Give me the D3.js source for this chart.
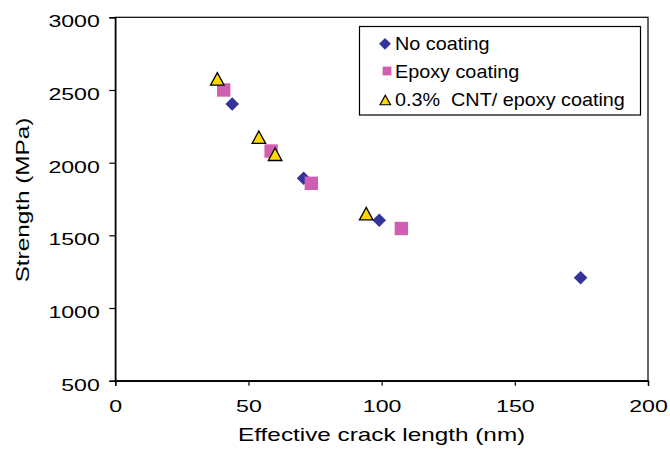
<!DOCTYPE html>
<html>
<head>
<meta charset="utf-8">
<script src="https://cdn.jsdelivr.net/npm/d3@7"></script>
<style>
html,body{margin:0;padding:0;background:#fff;}
svg{display:block;}
text{font-family:"Liberation Sans",Arial,sans-serif;fill:#000;white-space:pre;}
</style>
</head>
<body>
<svg id="chart" width="670" height="451"></svg>
<script>
// ---- data ----
const xTicks = [0, 50, 100, 150, 200];
const yTicks = [500, 1000, 1500, 2000, 2500, 3000];
const seriesNames = ["No coating", "Epoxy coating", "0.3%  CNT/ epoxy coating"];
const noCoatingX = [43.9, 70.7, 99.1, 174.7];
const noCoatingY = [2404, 1893, 1604, 1208];
const epoxyX = [40.7, 58.5, 73.6, 107.4];
const epoxyY = [2500, 2080, 1858, 1547];
const cntX = [38.3, 53.9, 60.0, 94.2];
const cntY = [2576, 2175, 2058, 1649];
const xTitle = "Effective crack length (nm)";
const yTitle = "Strength (MPa)";

// ---- layout ----
const L = 115.3, R = 648, T = 17.3, B = 380.7;
const svg = d3.select("#chart");
const x = d3.scaleLinear().domain([0, 200]).range([L, R]);
const y = d3.scaleLinear().domain([500, 3000]).range([B, T]);

const TICK_S = 1.36, TITLE_S = 1.35, LEG_S = 1.1;

// plot frame (top and right)
svg.append("rect").attr("x", L).attr("y", T).attr("width", R - L).attr("height", B - T)
  .attr("fill", "none").attr("stroke", "#000").attr("stroke-width", 1.2);

// axes
const gx = svg.append("g").attr("transform", `translate(0,${B})`)
  .call(d3.axisBottom(x).tickValues(xTicks).tickSize(5).tickFormat(d3.format("d")));
const gy = svg.append("g").attr("transform", `translate(${L},0)`)
  .call(d3.axisLeft(y).tickValues(yTicks).tickSize(6).tickFormat(d3.format("d")));
[gx, gy].forEach(g => {
  g.select(".domain").attr("stroke", "#000").attr("stroke-width", 1.4);
  g.selectAll(".tick line").attr("stroke", "#000").attr("stroke-width", 1.2);
  g.selectAll(".tick text").attr("font-size", 17).attr("font-family", null).attr("fill", "#000");
});
gx.selectAll(".tick text").attr("y", 31.5).attr("dy", 0).attr("x", 0)
  .attr("transform", `scale(${TICK_S},1)`);
gy.selectAll(".tick text").attr("x", -15.5 / TICK_S).attr("dy", 9.4)
  .attr("transform", `scale(${TICK_S},1)`);

// titles
svg.append("g").attr("transform", `translate(${(L + R) / 2},440.7) scale(${TITLE_S},1)`)
  .append("text").attr("text-anchor", "middle").attr("font-size", 18).text(xTitle);
svg.append("g").attr("transform", `translate(28.5,${(T + B) / 2 + 1}) rotate(-90) scale(${TITLE_S},1)`)
  .append("text").attr("text-anchor", "middle").attr("font-size", 18).text(yTitle);

// marker paths
function diamond(h) { return `M0,${-h}L${h},0L0,${h}L${-h},0Z`; }
function square(h) { return `M${-h},${-h}H${h}V${h}H${-h}Z`; }
function triangle(w, hgt) { return `M0,${-hgt / 2}L${w / 2},${hgt / 2}L${-w / 2},${hgt / 2}Z`; }

const styles = [
  { path: diamond(6.8), lp: diamond(5.9), fill: "#333399", stroke: "none" },
  { path: square(6.7), lp: square(4.4), fill: "#D15FB1", stroke: "none" },
  { path: triangle(13.5, 12.5), lp: triangle(10.5, 9.5), fill: "#FFD800", stroke: "#000" }
];
const series = [
  { xs: noCoatingX, ys: noCoatingY },
  { xs: epoxyX, ys: epoxyY },
  { xs: cntX, ys: cntY }
];

series.forEach((s, i) => {
  const st = styles[i];
  svg.append("g").selectAll("path").data(s.xs.map((v, j) => [v, s.ys[j]])).join("path")
    .attr("transform", d => `translate(${x(d[0])},${y(d[1])})`)
    .attr("d", st.path).attr("fill", st.fill)
    .attr("stroke", st.stroke).attr("stroke-width", 1.3).attr("stroke-linejoin", "miter");
});

// legend
const leg = svg.append("g");
leg.append("rect").attr("x", 359.5).attr("y", 26.5).attr("width", 281).attr("height", 88.5)
  .attr("fill", "#fff").attr("stroke", "#000").attr("stroke-width", 1.2);
const legY = [43.8, 71, 100];
const legBase = [49.5, 77.8, 106.2];
const legX = [385, 387, 385.3];
seriesNames.forEach((name, i) => {
  const st = styles[i];
  leg.append("path").attr("transform", `translate(${legX[i]},${legY[i]})`)
    .attr("d", st.lp).attr("fill", st.fill).attr("stroke", st.stroke).attr("stroke-width", 1.2);
  leg.append("g").attr("transform", `translate(395,${legBase[i]}) scale(${LEG_S},1)`)
    .append("text").attr("font-size", 18).text(name);
});
</script>
</body>
</html>
